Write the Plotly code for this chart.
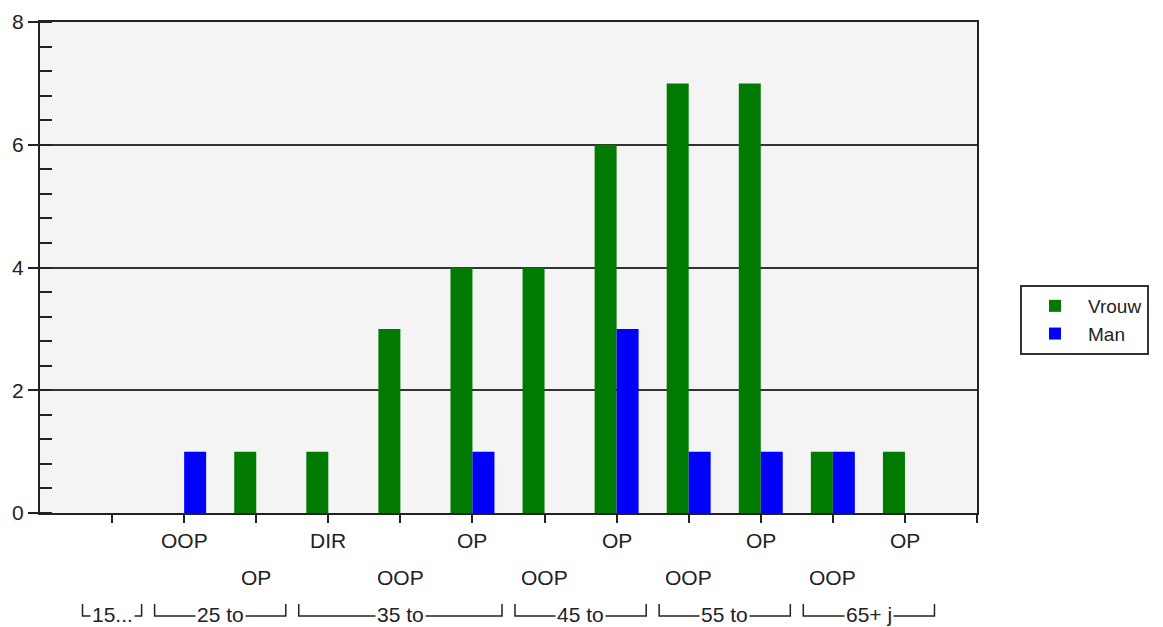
import plotly.graph_objects as go

# ---- data ----
sub_labels = ["", "OOP", "OP", "DIR", "OOP", "OP", "OOP", "OP", "OOP", "OP", "OOP", "OP"]
vrouw = [0, 0, 1, 1, 3, 4, 4, 6, 7, 7, 1, 1]
man = [0, 1, 0, 0, 0, 1, 0, 3, 1, 1, 1, 0]
group_labels = ["15...", "25 to", "35 to", "45 to", "55 to", "65+ j"]
group_start = [0, 1, 3, 6, 8, 10]
group_end = [0, 2, 5, 7, 9, 11]

xs = list(range(len(sub_labels)))
GREEN = "#007a00"
BLUE = "#0000ff"
FONT = "Liberation Sans, Arial, sans-serif"
TXT = "#222"

fig = go.Figure()
fig.add_trace(go.Bar(x=xs, y=vrouw, name="Vrouw", marker=dict(color=GREEN, line=dict(width=0))))
fig.add_trace(go.Bar(x=xs, y=man, name="Man", marker=dict(color=BLUE, line=dict(width=0))))

W, H = 1163, 627
OFF = 8  # page body margin
ml, mr, mt, mb = 40 - OFF, 1163 - 977 + OFF, 22 - OFF, 627 - 513 + OFF
ph = H - mt - mb
PLOT_BOTTOM = 513  # screen pixel


def py(pix):
    return (PLOT_BOTTOM - pix) / ph


annotations = []
# staggered category labels
for i, lab in enumerate(sub_labels):
    if not lab:
        continue
    row_y = py(540) if i % 2 == 1 else py(577)
    annotations.append(dict(x=i, y=row_y, xref="x", yref="paper", text=lab,
                            showarrow=False, xanchor="center", yanchor="middle",
                            font=dict(size=21, color=TXT, family=FONT)))

shapes = []
for lab, s, e in zip(group_labels, group_start, group_end):
    x0 = s - 0.41
    x1 = e + 0.41
    ytop = py(604)
    ybot = py(616)
    shapes.append(dict(type="path", xref="x", yref="paper",
                       path=f"M {x0},{ytop} L {x0},{ybot} L {x1},{ybot} L {x1},{ytop}",
                       line=dict(color=TXT, width=1.5)))
    annotations.append(dict(x=(s + e) / 2, y=py(614), xref="x", yref="paper", text=lab,
                            showarrow=False, xanchor="center", yanchor="middle",
                            bgcolor="white", borderpad=1,
                            font=dict(size=21, color=TXT, family=FONT)))

fig.update_layout(
    width=W, height=H,
    margin=dict(l=ml, r=mr, t=mt, b=mb, autoexpand=False),
    paper_bgcolor="white",
    plot_bgcolor="#f4f4f4",
    barmode="group",
    bargap=0.39,
    bargroupgap=0,
    font=dict(family=FONT, size=20, color=TXT),
    showlegend=True,
    legend=dict(xref="container", yref="container", x=(1020 - OFF) / W, y=1 - (285 - OFF) / H,
                xanchor="left", yanchor="top", bgcolor="white",
                bordercolor="#333", borderwidth=2,
                font=dict(size=19, color=TXT, family=FONT),
                tracegroupgap=0, itemwidth=56),
    shapes=shapes,
    annotations=annotations,
)
fig.update_xaxes(range=[-1, 12], tickvals=list(range(13)), showticklabels=False,
                 ticks="outside", ticklen=8, tickwidth=1.5, tickcolor=TXT,
                 showline=True, linecolor=TXT, linewidth=2, mirror=True,
                 showgrid=False, zeroline=False, fixedrange=True, automargin=False)
fig.update_yaxes(range=[0, 8], tickvals=[0, 2, 4, 6, 8], ticks="outside", ticklen=10,
                 tickwidth=2, tickcolor=TXT,
                 minor=dict(dtick=0.4, ticks="inside", ticklen=12, tickwidth=2,
                            tickcolor=TXT, showgrid=False),
                 showline=True, linecolor=TXT, linewidth=2, mirror=True,
                 showgrid=True, gridcolor="#333", gridwidth=1.5, zeroline=False,
                 tickfont=dict(size=21, color=TXT, family=FONT), fixedrange=True,
                 automargin=False)

fig.write_html("out.html")
